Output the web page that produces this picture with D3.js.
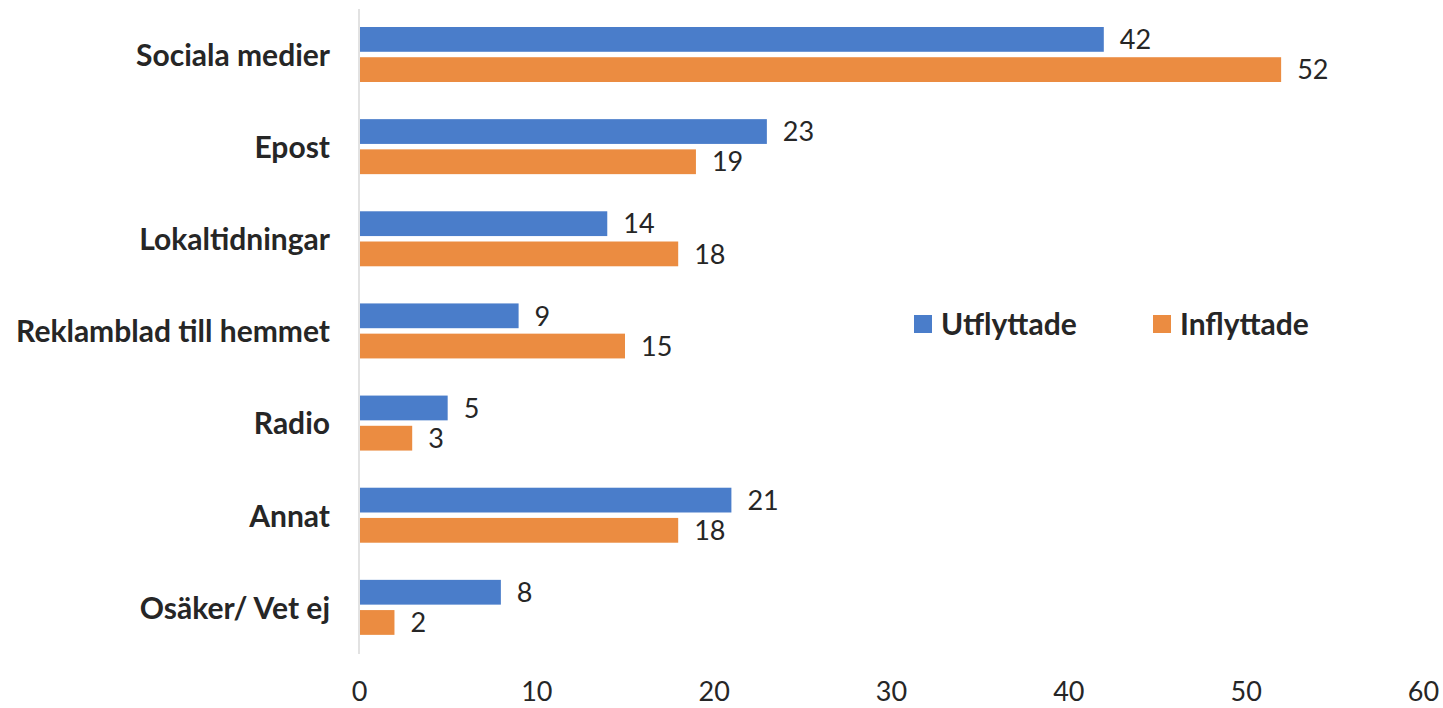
<!DOCTYPE html>
<html><head><meta charset="utf-8">
<script src="https://cdn.jsdelivr.net/npm/d3@7/dist/d3.min.js"></script>
<style>body{margin:0;background:#fff}svg{display:block}</style>
</head><body>
<svg id="c" width="1443" height="708"></svg>
<script>
const categories = ["Sociala medier","Epost","Lokaltidningar","Reklamblad till hemmet","Radio","Annat","Osäker/ Vet ej"];
const seriesNames = ["Utflyttade","Inflyttade"];
const utflyttade = [42,23,14,9,5,21,8];
const inflyttade = [52,19,18,15,3,18,2];
const xTicks = [0,10,20,30,40,50,60];
const colors = ["#4a7dca","#eb8c41"];

const svg = d3.select("#c");
const x = d3.scaleLinear().domain([0,60]).range([359,1423]);
const y = d3.scaleBand().domain(categories).range([9,654]);
const inner = d3.scaleBand().domain(seriesNames).range([18,73]).paddingInner(0.18);
const textColor = "#262626";

svg.append("line").attr("x1",x(0)).attr("x2",x(0)).attr("y1",9).attr("y2",654)
  .attr("stroke","#d9d9d9").attr("stroke-width",1.5);

const data = categories.map((c,i)=>({c, vals:[utflyttade[i], inflyttade[i]]}));
const g = svg.append("g");
data.forEach(d=>{
  d.vals.forEach((v,j)=>{
    const yy = y(d.c)+inner(seriesNames[j]);
    g.append("rect").attr("x",x(0)+1).attr("y",yy).attr("width",x(v)-x(0)-1).attr("height",inner.bandwidth())
      .attr("fill",colors[j]);
    g.append("text").attr("x",x(v)+16).attr("y",yy+inner.bandwidth()/2).attr("dy","0.36em")
      .attr("font-family","Lato, sans-serif").attr("font-size",27).attr("fill",textColor).text(v);
  });
});

const yAxis = d3.axisLeft(y).tickSize(0).tickPadding(0);
const ya = svg.append("g").attr("transform","translate(330,0)").call(yAxis);
ya.select(".domain").remove();
ya.selectAll("text").attr("font-family","Lato, sans-serif").attr("font-weight","bold")
  .attr("font-size",30).attr("fill",textColor).attr("dy","0.36em");

const xAxis = d3.axisBottom(x).tickValues(xTicks).tickSize(0).tickPadding(0);
const xa = svg.append("g").attr("transform","translate(0,691)").call(xAxis);
xa.select(".domain").remove();
xa.selectAll("text").attr("font-family","Lato, sans-serif").attr("font-size",27)
  .attr("fill",textColor).attr("dy","0.36em").attr("y",0);

const legendX = [914,1153];
seriesNames.forEach((s,j)=>{
  svg.append("rect").attr("x",legendX[j]).attr("y",315).attr("width",18).attr("height",18).attr("fill",colors[j]);
  svg.append("text").attr("x",legendX[j]+27).attr("y",324).attr("dy","0.36em")
    .attr("font-family","Lato, sans-serif").attr("font-weight","bold").attr("font-size",30)
    .attr("fill",textColor).text(s);
});
</script>
</body></html>
